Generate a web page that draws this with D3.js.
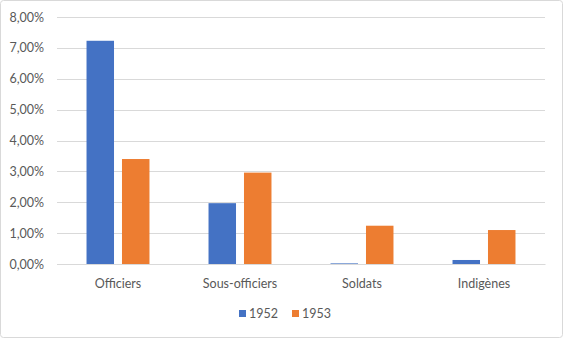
<!DOCTYPE html>
<html>
<head>
<meta charset="utf-8">
<script src="https://cdn.jsdelivr.net/npm/d3@7"></script>
<style>
  html, body { margin: 0; padding: 0; background: #fff; }
  svg { display: block; }
  text { font-family: Lato, "Liberation Sans", sans-serif; fill: #595959; }
</style>
</head>
<body>
<svg id="chart" width="564" height="339"></svg>
<script>
// Taux par catégorie et par année (en %)
const categories = ["Officiers", "Sous-officiers", "Soldats", "Indigènes"];
const series = ["1952", "1953"];
const values1952 = [7.23, 1.97, 0.02, 0.13];
const values1953 = [3.40, 2.96, 1.24, 1.10];
const yTicks = [0, 1, 2, 3, 4, 5, 6, 7, 8];
const colors = ["#4472C4", "#ED7D31"];

const valuesBySeries = [values1952, values1953];
const rows = categories.map((c, i) => ({
  category: c,
  values: series.map((s, j) => ({ key: s, value: valuesBySeries[j][i], color: colors[j] }))
}));

const width = 564, height = 339;
const margin = { top: 17, right: 19, bottom: 75, left: 57 };
const innerW = width - margin.left - margin.right;
const innerH = height - margin.top - margin.bottom;
const fontSize = "12.5px";

const svg = d3.select("#chart");

// Cadre du graphique
svg.append("rect")
  .attr("x", 0.5).attr("y", 0.5)
  .attr("width", width - 2).attr("height", height - 2)
  .attr("rx", 3)
  .attr("fill", "#fff")
  .attr("stroke", "#d9d9d9");

const g = svg.append("g").attr("transform", `translate(${margin.left},${margin.top})`);

const y = d3.scaleLinear().domain([0, 8]).range([innerH, 0]);
const x0 = d3.scaleBand().domain(categories).range([0, innerW]).padding(0);
const bw = x0.bandwidth();
const x1 = d3.scaleBand().domain(series).range([bw * 0.242, bw * 0.758]).paddingInner(0.225);

const fmt = v => d3.format(".2f")(v).replace(".", ",") + "%";

// Quadrillage horizontal
g.append("g")
  .selectAll("line")
  .data(yTicks)
  .join("line")
  .attr("x1", 0).attr("x2", innerW)
  .attr("y1", d => Math.round(y(d)) + 0.5)
  .attr("y2", d => Math.round(y(d)) + 0.5)
  .attr("stroke", "#d9d9d9")
  .attr("stroke-width", 1);

// Axe vertical (libellés seulement)
const yAxis = g.append("g")
  .call(d3.axisLeft(y).tickValues(yTicks).tickFormat(fmt).tickSize(0).tickPadding(13));
yAxis.select(".domain").remove();
yAxis.selectAll("text")
  .style("font-size", fontSize)
  .style("font-family", "Lato, 'Liberation Sans', sans-serif")
  .attr("fill", "#595959");

// Barres
const groups = g.append("g")
  .selectAll("g")
  .data(rows)
  .join("g")
  .attr("transform", d => `translate(${x0(d.category)},0)`);

groups.selectAll("rect")
  .data(d => d.values)
  .join("rect")
  .attr("x", d => x1(d.key))
  .attr("width", x1.bandwidth())
  .attr("y", d => y(d.value))
  .attr("height", d => innerH - y(d.value))
  .attr("fill", d => d.color);

// Axe horizontal (libellés de catégories)
const xAxis = g.append("g")
  .attr("transform", `translate(0,${innerH})`)
  .call(d3.axisBottom(x0).tickSize(0).tickPadding(15));
xAxis.select(".domain")
  .attr("stroke", "#d9d9d9");
xAxis.selectAll("text")
  .style("font-size", fontSize)
  .style("font-family", "Lato, 'Liberation Sans', sans-serif")
  .attr("fill", "#595959");

// Légende
const legend = svg.append("g").attr("transform", `translate(239,314)`);
const item = legend.selectAll("g")
  .data(series)
  .join("g")
  .attr("transform", (d, i) => `translate(${i * 53},0)`);
item.append("rect")
  .attr("x", 0).attr("y", -4)
  .attr("width", 7).attr("height", 7)
  .attr("fill", (d, i) => colors[i]);
item.append("text")
  .attr("x", 10).attr("y", 4)
  .style("font-size", fontSize)
  .text(d => d);
</script>
</body>
</html>
